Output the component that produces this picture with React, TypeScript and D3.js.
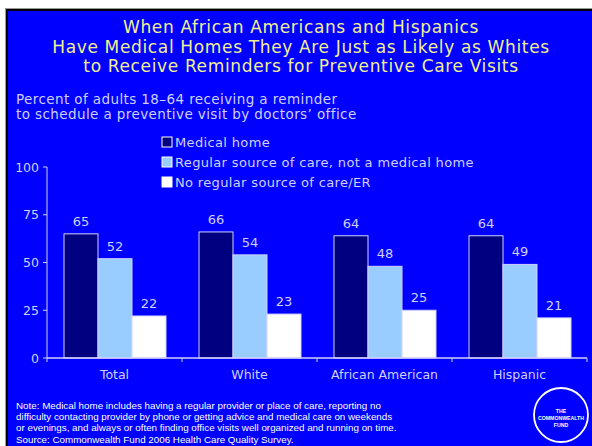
import React from "react";
import * as d3 from "d3";

const categories = ["Total", "White", "African American", "Hispanic"];
const seriesNames = [
  "Medical home",
  "Regular source of care, not a medical home",
  "No regular source of care/ER",
];
const medicalHome = [65, 66, 64, 64];
const regularSource = [52, 54, 48, 49];
const noRegular = [22, 23, 25, 21];
const yTicks = [0, 25, 50, 75, 100];
const titleLines = [
  "When African Americans and Hispanics",
  "Have Medical Homes They Are Just as Likely as Whites",
  "to Receive Reminders for Preventive Care Visits",
];
const subtitleLines = [
  "Percent of adults 18–64 receiving a reminder",
  "to schedule a preventive visit by doctors’ office",
];
const noteLines = [
  "Note: Medical home includes having a regular provider or place of care, reporting no",
  "difficulty contacting provider by phone or getting advice and medical care on weekends",
  "or evenings, and always or often finding office visits well organized and running on time.",
  "Source: Commonwealth Fund 2006 Health Care Quality Survey.",
];

const seriesValues = [medicalHome, regularSource, noRegular];
const seriesColors = ["#000080", "#99ccff", "#ffffff"];
const W = 592;
const H = 446;
const FONT = "'DejaVu Sans', Verdana, sans-serif";
const LIGHT = "#d0d0ff";

export default function App() {
  const x0 = d3.scaleBand<string>().domain(categories).range([47, 587]);
  const x1 = d3
    .scaleBand<number>()
    .domain([0, 1, 2])
    .range([17, 119]);
  const y = d3.scaleLinear().domain([0, 100]).range([358, 167]);

  return (
    <div style={{ position: "fixed", left: 0, top: 0, width: W, height: H, background: "#fff" }}>
      <svg width={W} height={H} style={{ display: "block" }}>
        <rect x={0} y={0} width={W} height={H} fill="#ffffff" />
        <rect x={5} y={8} width={W - 5} height={H - 8} fill="#999999" />
        <rect x={6} y={9} width={W - 6} height={H - 9} fill="#000000" />
        <rect x={8} y={11} width={W - 8} height={H - 11} fill="#0000ff" />

        {titleLines.map((t, i) => (
          <text
            key={i}
            x={301}
            y={33 + i * 19.5}
            textAnchor="middle"
            fill="#f0f090"
            fontFamily={FONT}
            fontSize={17}
            letterSpacing={0.65}
          >
            {t}
          </text>
        ))}
        {subtitleLines.map((t, i) => (
          <text
            key={i}
            x={16}
            y={104 + i * 15}
            fill={LIGHT}
            fontFamily={FONT}
            fontSize={13.5}
            letterSpacing={0.4}
          >
            {t}
          </text>
        ))}

        {seriesNames.map((s, i) => (
          <g key={s}>
            <rect
              x={162}
              y={137 + i * 20}
              width={10}
              height={10}
              fill={seriesColors[i]}
              stroke="#ffffff"
              strokeWidth={1}
            />
            <text
              x={175}
              y={147 + i * 20}
              fill={LIGHT}
              fontFamily={FONT}
              fontSize={13}
              letterSpacing={0.35}
            >
              {s}
            </text>
          </g>
        ))}

        {/* y axis */}
        <line x1={47} x2={47} y1={y(100)} y2={y(0)} stroke={LIGHT} strokeWidth={1} />
        {yTicks.map((t) => (
          <g key={t}>
            <line x1={43} x2={47} y1={y(t)} y2={y(t)} stroke={LIGHT} />
            <text
              x={39}
              y={y(t) + 4.5}
              textAnchor="end"
              fill={LIGHT}
              fontFamily={FONT}
              fontSize={12.5}
            >
              {t}
            </text>
          </g>
        ))}

        {/* bars */}
        {categories.map((c, ci) => (
          <g key={c} transform={`translate(${x0(c)},0)`}>
            {seriesValues.map((vals, si) => {
              const v = vals[ci];
              const bx = x1(si)!;
              return (
                <g key={si}>
                  <rect
                    x={bx}
                    y={y(v)}
                    width={x1.bandwidth()}
                    height={y(0) - y(v)}
                    fill={seriesColors[si]}
                    stroke={LIGHT}
                    strokeWidth={1}
                  />
                  <text
                    x={bx + x1.bandwidth() / 2}
                    y={y(v) - 8}
                    textAnchor="middle"
                    fill={LIGHT}
                    fontFamily={FONT}
                    fontSize={13}
                  >
                    {v}
                  </text>
                </g>
              );
            })}
            <text
              x={x0.bandwidth() / 2}
              y={379}
              textAnchor="middle"
              fill={LIGHT}
              fontFamily={FONT}
              fontSize={12.5}
            >
              {c}
            </text>
          </g>
        ))}

        {/* x axis */}
        <line x1={47} x2={587} y1={y(0)} y2={y(0)} stroke={LIGHT} strokeWidth={1.5} />
        {[...categories.map((c) => x0(c)!), 587].map((px, i) => (
          <line key={i} x1={px} x2={px} y1={y(0)} y2={y(0) + 4} stroke={LIGHT} />
        ))}

        {noteLines.map((t, i) => (
          <text
            key={i}
            x={16}
            y={408.5 + i * 11.4}
            fill="#ffffff"
            fontFamily="'Liberation Sans', Arial, sans-serif"
            fontSize={9.8}
          >
            {t}
          </text>
        ))}

        <circle cx={561} cy={415} r={27} fill="none" stroke="#ffffff" strokeWidth={1.8} />
        {["THE", "COMMONWEALTH", "FUND"].map((t, i) => (
          <text
            key={t}
            x={561}
            y={413 + i * 7}
            textAnchor="middle"
            fill="#ffffff"
            fontFamily="'Liberation Sans', Arial, sans-serif"
            fontWeight="bold"
            fontSize={5.2}
          >
            {t}
          </text>
        ))}
      </svg>
    </div>
  );
}
